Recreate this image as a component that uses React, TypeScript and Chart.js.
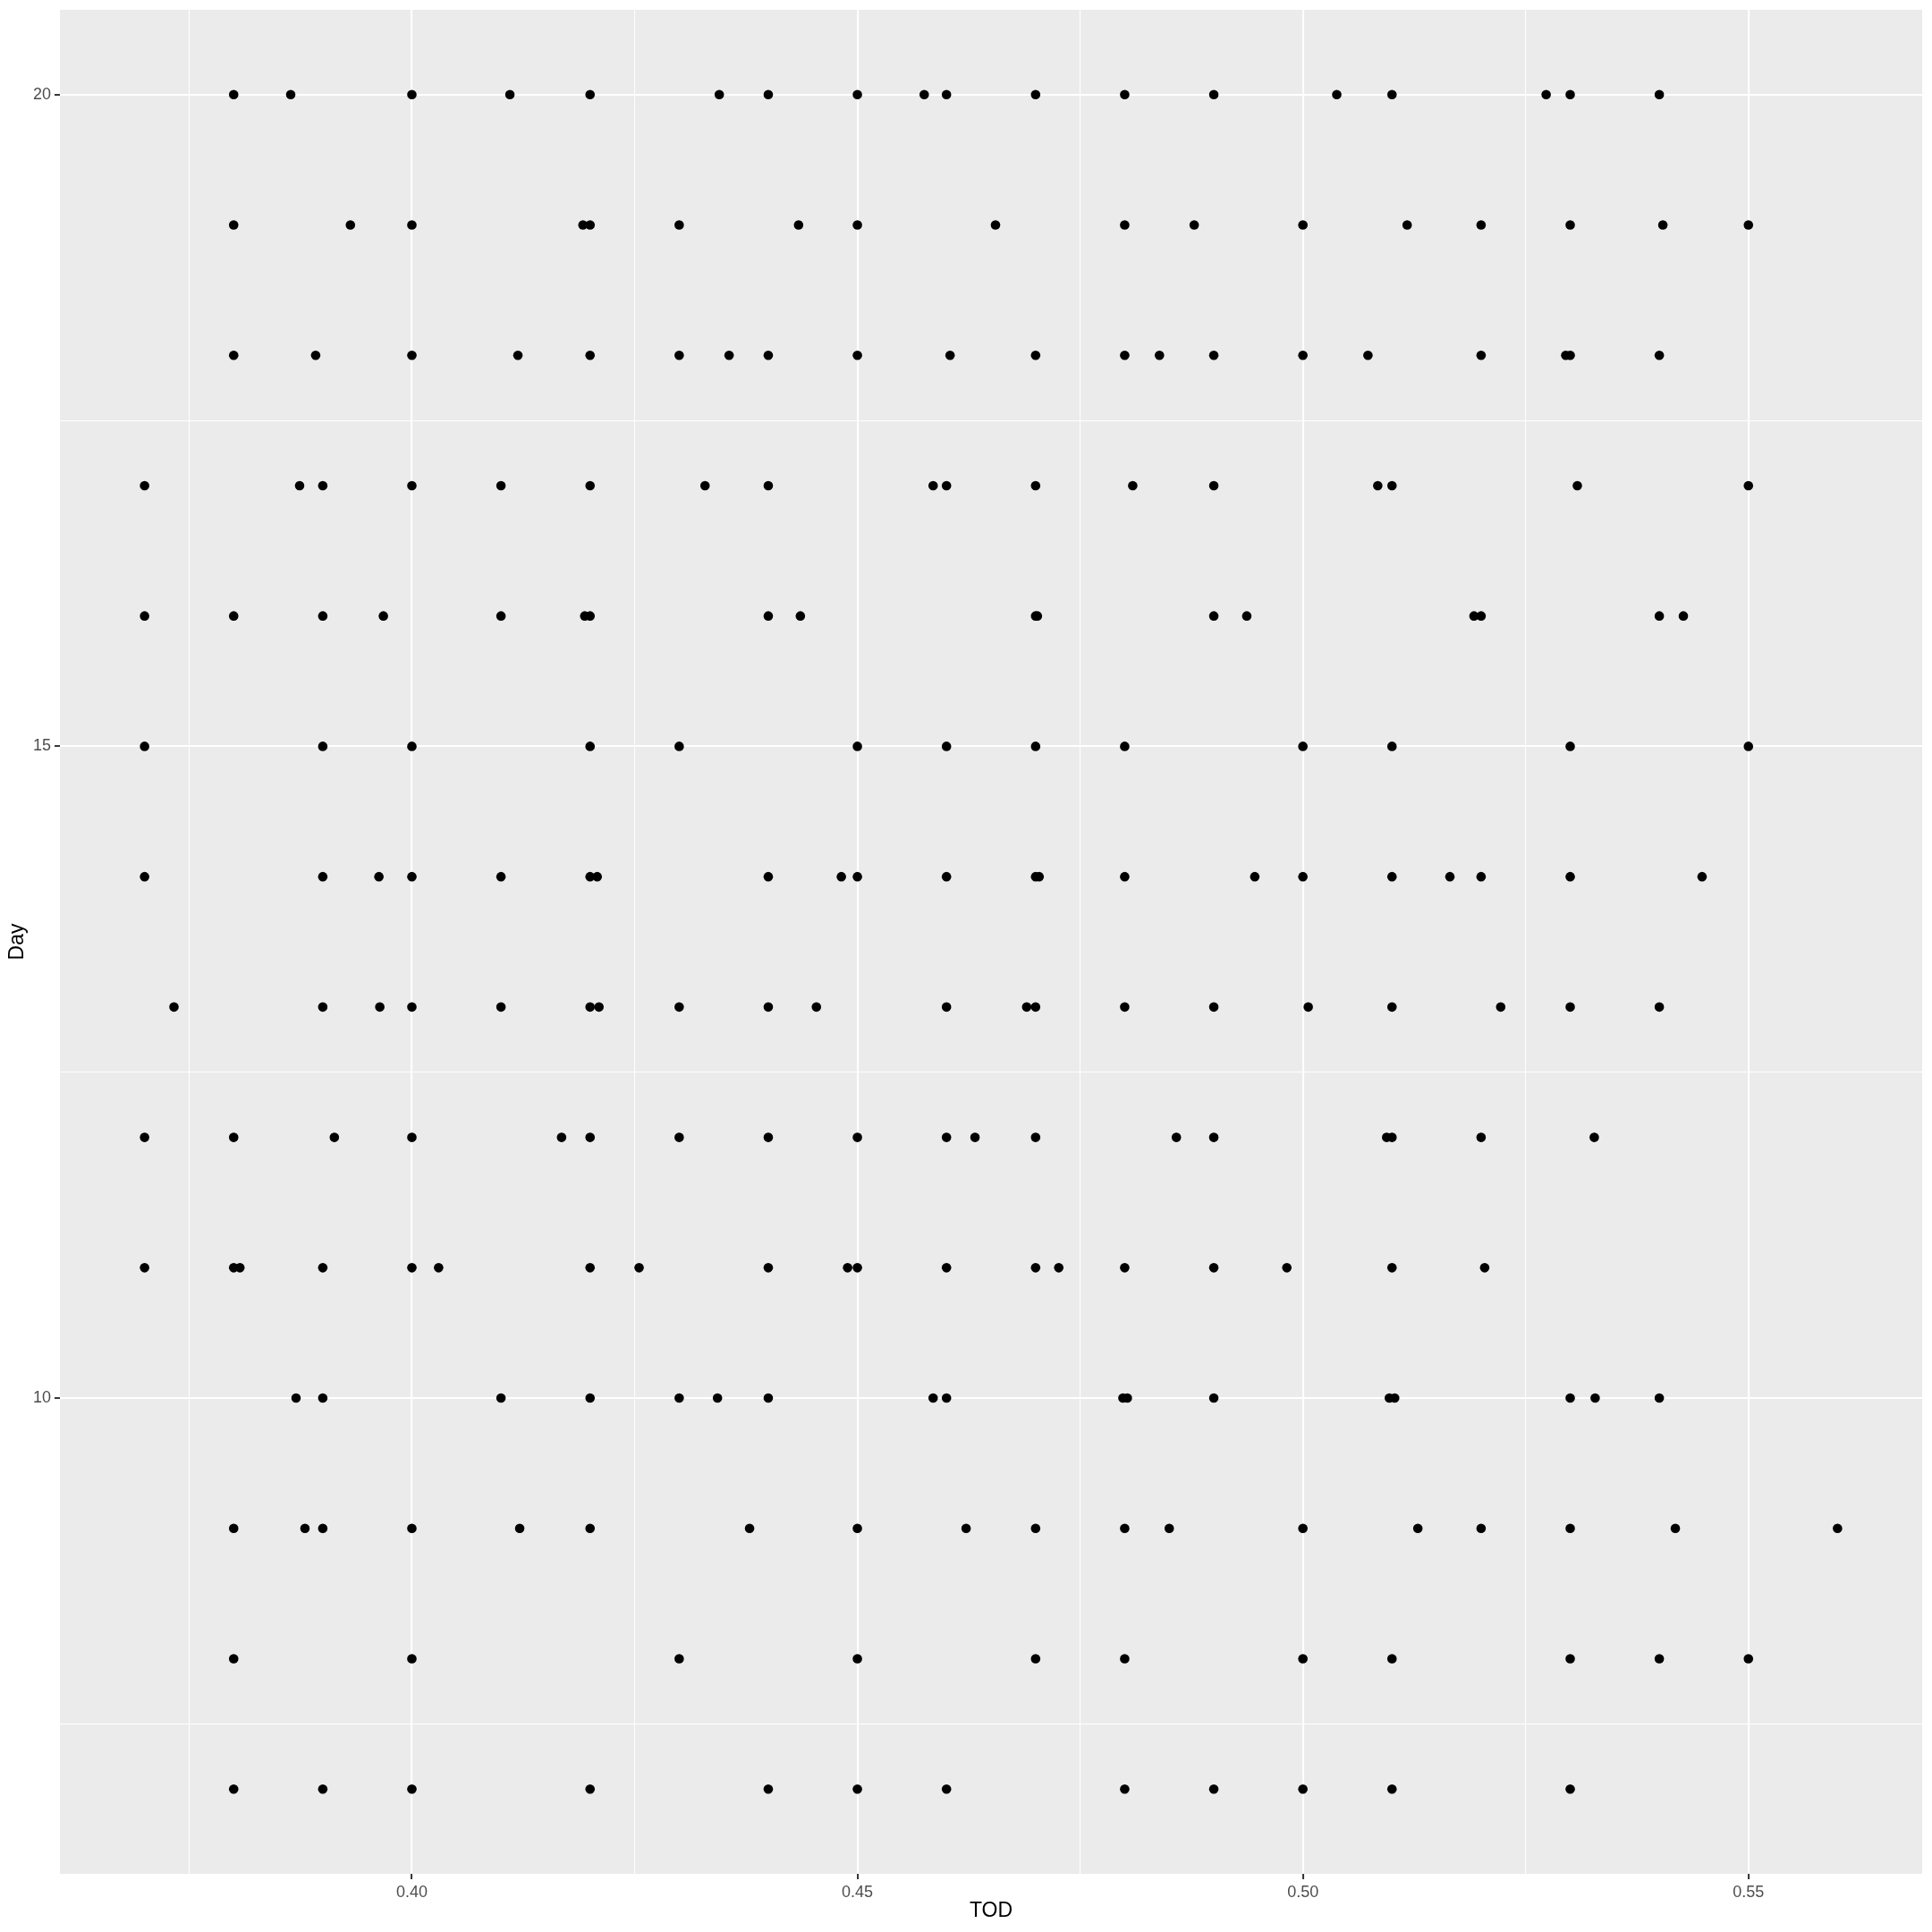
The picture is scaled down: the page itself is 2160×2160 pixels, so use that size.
import React, { useEffect, useRef } from 'react';
import { Chart, registerables } from 'chart.js';

Chart.register(...registerables);

// ---- Data (TOD values observed for each Day) ----
const days = [20, 19, 18, 17, 16, 15, 14, 13, 12, 11, 10, 9, 8, 7];

const tod20 = [0.38, 0.3864, 0.40, 0.411, 0.42, 0.4345, 0.44, 0.45, 0.4575, 0.46, 0.47, 0.48, 0.49, 0.5038, 0.51, 0.5273, 0.53, 0.54];
const tod19 = [0.38, 0.3931, 0.40, 0.4192, 0.42, 0.43, 0.4434, 0.45, 0.4655, 0.48, 0.4878, 0.50, 0.5117, 0.52, 0.53, 0.5404, 0.55];
const tod18 = [0.38, 0.3892, 0.40, 0.4119, 0.42, 0.43, 0.4356, 0.44, 0.45, 0.4604, 0.47, 0.48, 0.4839, 0.49, 0.50, 0.5073, 0.52, 0.5295, 0.53, 0.54];
const tod17 = [0.37, 0.3874, 0.39, 0.40, 0.41, 0.42, 0.4329, 0.44, 0.4585, 0.46, 0.47, 0.4809, 0.49, 0.5084, 0.51, 0.5308, 0.55];
const tod16 = [0.37, 0.38, 0.39, 0.3968, 0.41, 0.4194, 0.42, 0.44, 0.4436, 0.47, 0.4702, 0.49, 0.4937, 0.5192, 0.52, 0.54, 0.5427];
const tod15 = [0.37, 0.39, 0.40, 0.42, 0.43, 0.45, 0.46, 0.47, 0.48, 0.50, 0.51, 0.53, 0.55];
const tod14 = [0.37, 0.39, 0.3963, 0.40, 0.41, 0.42, 0.4208, 0.44, 0.4482, 0.45, 0.46, 0.47, 0.4704, 0.48, 0.4946, 0.50, 0.51, 0.5165, 0.52, 0.53, 0.5448];
const tod13 = [0.3733, 0.39, 0.3964, 0.40, 0.41, 0.42, 0.421, 0.43, 0.44, 0.4454, 0.46, 0.469, 0.47, 0.48, 0.49, 0.5006, 0.51, 0.5222, 0.53, 0.54];
const tod12 = [0.37, 0.38, 0.3913, 0.40, 0.4168, 0.42, 0.43, 0.44, 0.45, 0.46, 0.4632, 0.47, 0.4858, 0.49, 0.5094, 0.51, 0.52, 0.5327];
const tod11 = [0.37, 0.38, 0.3807, 0.39, 0.40, 0.403, 0.42, 0.4255, 0.44, 0.4489, 0.45, 0.46, 0.47, 0.4726, 0.48, 0.49, 0.4982, 0.51, 0.5204];
const tod10 = [0.387, 0.39, 0.41, 0.42, 0.43, 0.4343, 0.44, 0.4585, 0.46, 0.4798, 0.4803, 0.49, 0.5097, 0.5103, 0.53, 0.5328, 0.54];
const tod9 = [0.38, 0.388, 0.39, 0.40, 0.4121, 0.42, 0.4379, 0.45, 0.4622, 0.47, 0.48, 0.485, 0.50, 0.5129, 0.52, 0.53, 0.5418, 0.56];
const tod8 = [0.38, 0.40, 0.43, 0.45, 0.47, 0.48, 0.50, 0.51, 0.53, 0.54, 0.55];
const tod7 = [0.38, 0.39, 0.40, 0.42, 0.44, 0.45, 0.46, 0.48, 0.49, 0.50, 0.51, 0.53];

const todByDay = [tod20, tod19, tod18, tod17, tod16, tod15, tod14, tod13, tod12, tod11, tod10, tod9, tod8, tod7];

// ---- Axes ----
const xMajorTicks = [0.40, 0.45, 0.50, 0.55];
const xMinorTicks = [0.375, 0.425, 0.475, 0.525];
const xTickLabels = ['0.40', '0.45', '0.50', '0.55'];
const yMajorTicks = [10, 15, 20];
const yMinorTicks = [7.5, 12.5, 17.5];
const yTickLabels = ['10', '15', '20'];
const xTitle = 'TOD';
const yTitle = 'Day';

const FONT = "'Liberation Sans', Arial, sans-serif";

const isIn = (arr: number[], v: number) => arr.some((m) => Math.abs(m - v) < 1e-9);

const panelBg = {
  id: 'panelBg',
  beforeDraw(chart: any) {
    const { ctx, chartArea } = chart;
    ctx.save();
    ctx.fillStyle = '#FFFFFF';
    ctx.fillRect(0, 0, chart.width, chart.height);
    ctx.fillStyle = '#EBEBEB';
    ctx.fillRect(chartArea.left, chartArea.top, chartArea.right - chartArea.left, chartArea.bottom - chartArea.top);
    ctx.restore();
  },
};

export default function App() {
  const ref = useRef<HTMLCanvasElement | null>(null);

  useEffect(() => {
    if (!ref.current) return;
    const points: { x: number; y: number }[] = [];
    days.forEach((d, i) => {
      todByDay[i].forEach((t) => points.push({ x: t, y: d }));
    });

    const chart = new Chart(ref.current, {
      type: 'scatter',
      data: {
        datasets: [
          {
            data: points,
            backgroundColor: '#000000',
            borderWidth: 0,
            pointRadius: 5.3,
            pointHoverRadius: 5.3,
          },
        ],
      },
      plugins: [panelBg],
      options: {
        animation: false,
        responsive: false,
        events: [],
        layout: { padding: { left: 0, top: 11, right: 11, bottom: 0 } },
        plugins: { legend: { display: false }, tooltip: { enabled: false } },
        scales: {
          x: {
            type: 'linear',
            min: 0.3605,
            max: 0.5695,
            afterBuildTicks: (s: any) => {
              s.ticks = [...xMinorTicks, ...xMajorTicks].sort((a, b) => a - b).map((v) => ({ value: v }));
            },
            afterFit: (s: any) => {
              s.height = 65;
              s.paddingLeft = 0;
              s.paddingRight = 0;
            },
            ticks: {
              autoSkip: false,
              maxRotation: 0,
              minRotation: 0,
              padding: 4,
              color: '#4D4D4D',
              font: { family: FONT, size: 18 },
              callback: (v: any) => {
                const i = xMajorTicks.findIndex((m) => Math.abs(m - v) < 1e-9);
                return i >= 0 ? xTickLabels[i] : '';
              },
            },
            grid: {
              color: '#FFFFFF',
              lineWidth: (c: any) => (c.tick && isIn(xMajorTicks, c.tick.value) ? 2.1 : 1.05),
              drawTicks: true,
              tickLength: 6,
              tickWidth: 2,
              tickColor: (c: any) => (c.tick && isIn(xMajorTicks, c.tick.value) ? '#333333' : 'rgba(0,0,0,0)'),
            },
            border: { display: false },
            title: {
              display: true,
              text: xTitle,
              color: '#000000',
              font: { family: FONT, size: 23 },
              padding: { top: 0, bottom: 10 },
            },
          },
          y: {
            type: 'linear',
            min: 6.35,
            max: 20.65,
            afterBuildTicks: (s: any) => {
              s.ticks = [...yMinorTicks, ...yMajorTicks].sort((a, b) => a - b).map((v) => ({ value: v }));
            },
            afterFit: (s: any) => {
              s.width = 67;
              s.paddingTop = 0;
              s.paddingBottom = 0;
            },
            ticks: {
              autoSkip: false,
              padding: 4,
              color: '#4D4D4D',
              font: { family: FONT, size: 18 },
              callback: (v: any) => {
                const i = yMajorTicks.findIndex((m) => Math.abs(m - v) < 1e-9);
                return i >= 0 ? yTickLabels[i] : '';
              },
            },
            grid: {
              color: '#FFFFFF',
              lineWidth: (c: any) => (c.tick && isIn(yMajorTicks, c.tick.value) ? 2.1 : 1.05),
              drawTicks: true,
              tickLength: 6,
              tickWidth: 2,
              tickColor: (c: any) => (c.tick && isIn(yMajorTicks, c.tick.value) ? '#333333' : 'rgba(0,0,0,0)'),
            },
            border: { display: false },
            title: {
              display: true,
              text: yTitle,
              color: '#000000',
              font: { family: FONT, size: 23 },
              padding: { top: 6, bottom: 0 },
            },
          },
        },
      },
    } as any);

    return () => chart.destroy();
  }, []);

  return (
    <div style={{ position: 'absolute', left: 0, top: 0, width: 2160, height: 2160, background: '#FFFFFF' }}>
      <canvas ref={ref} width={2160} height={2160} style={{ display: 'block' }} />
    </div>
  );
}
